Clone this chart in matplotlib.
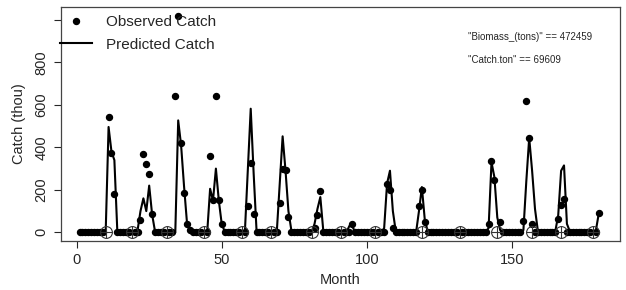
import numpy as np
import matplotlib
matplotlib.use("Agg")
import matplotlib.pyplot as plt
from matplotlib.lines import Line2D

plt.rcParams['font.family'] = ['Liberation Sans', 'DejaVu Sans']

nan = np.nan
months = np.arange(1, 181)

observed = [
    0, 0, 0, 0, 0, 0, 0, 0, 0, nan, 543, 373, 182, 0, 0,
    0, 0, 0, nan, 0, 0, 56, 370, 320, 273, 88, 0, 0, 0, 0,
    nan, 0, 0, 640, 1020, 420, 185, 40, 10, 0, 0, 0, 0, nan, 0,
    359, 150, 640, 150, 40, 0, 0, 0, 0, 0, 0, nan, 0, 122, 326,
    88, 0, 0, 0, 0, 0, nan, 0, 0, 138, 300, 292, 72, 0, 0,
    0, 0, 0, 0, 0, nan, 20, 80, 193, 0, 0, 0, 0, 0, 0,
    nan, 0, 0, 0, 40, 0, 0, 0, 0, 0, 0, 0, nan, 0, 0,
    0, 229, 198, 20, 0, 0, 0, 0, 0, 0, 0, 0, 122, 198, 49,
    0, 0, 0, 0, 0, 0, 0, 0, 0, 0, 0, nan, 0, 0, 0,
    0, 0, 0, 0, 0, 0, 41, 336, 248, nan, 49, 0, 0, 0, 0,
    0, 0, 0, 53, 618, 445, 41, 0, 0, 0, 0, 0, 0, 0, 0,
    64, 127, 158, 0, 0, 0, 0, 0, 0, 0, 0, 0, nan, 0, 93,
]

predicted = [
    0, 0, 0, 0, 0, 0, 0, 0, 0, 0, 496, 380, 340, 10, 0,
    0, 0, 0, 0, 0, 10, 100, 160, 100, 220, 85, 5, 0, 0, 0,
    0, 0, 0, 0, 527, 410, 220, 50, 5, 0, 0, 0, 0, 0, 0,
    205, 150, 300, 150, 40, 5, 0, 0, 0, 0, 0, 0, 5, 290, 582,
    280, 10, 0, 0, 0, 0, 0, 0, 5, 230, 452, 290, 100, 10, 0,
    0, 0, 0, 0, 0, 0, 40, 110, 166, 10, 0, 0, 0, 0, 0,
    0, 0, 0, 30, 30, 0, 0, 0, 0, 0, 0, 0, 0, 0, 0,
    20, 230, 290, 100, 5, 0, 0, 0, 0, 0, 0, 0, 100, 213, 60,
    5, 0, 0, 0, 0, 0, 0, 0, 0, 0, 0, 0, 0, 0, 0,
    0, 0, 0, 0, 0, 0, 20, 330, 260, 70, 10, 0, 0, 0, 0,
    0, 0, 0, 10, 240, 445, 290, 110, 5, 0, 0, 0, 0, 0, 5,
    80, 290, 315, 40, 5, 0, 0, 0, 0, 0, 0, 0, 0, 10, 90,
]

marked_months = [10, 19, 31, 44, 57, 67, 81, 91, 103, 119, 132, 145, 157, 167, 178]
marked_values = [0] * len(marked_months)

x_ticks = [0, 50, 100, 150]
y_ticks = [0, 200, 400, 600, 800, 1000]
y_ticklabels = ["0", "200", "400", "600", "800", ""]

annotations = ['"Biomass_(tons)" == 472459', '"Catch.ton" == 69609']

ink = '#262626'

fig = plt.figure(figsize=(6.26, 2.90), dpi=100)
ax = fig.add_axes([61/626, 1 - 241/290, (620-61)/626, (241-7)/290])

ax.plot(months, predicted, color='black', lw=1.5, zorder=2)
ax.plot(months, observed, 'o', color='black', ms=4.3, zorder=3)
ax.plot(marked_months, marked_values, 'o', mfc='none', mec='#333333', ms=8.5, mew=0.8, zorder=4)
ax.plot(marked_months, marked_values, '+', color='#333333', ms=8.5, mew=0.8, zorder=4)

ax.set_xlim(-5.4, 187.3)
ax.set_ylim(-40.8, 1060.8)
ax.set_xticks(x_ticks)
ax.set_yticks(y_ticks)
ax.set_yticklabels(y_ticklabels, rotation=90, va='center')
ax.tick_params(axis='both', direction='out', length=5, width=0.8, colors=ink, labelsize=10.5, pad=4)
for s in ax.spines.values():
    s.set_color('#444444')
    s.set_linewidth(0.9)

ax.set_xlabel('Month', fontsize=10.5, color=ink, labelpad=4)
ax.set_ylabel('Catch (thou)', fontsize=10.5, color=ink, labelpad=6)

ax.text(0.728, 0.872, annotations[0], transform=ax.transAxes, fontsize=7, color=ink, va='center', ha='left')
ax.text(0.728, 0.775, annotations[1], transform=ax.transAxes, fontsize=7, color=ink, va='center', ha='left')

handles = [Line2D([], [], marker='o', color='black', ls='none', ms=4.3),
           Line2D([], [], color='black', lw=1.5)]
ax.legend(handles, ['Observed Catch', 'Predicted Catch'], loc='upper left',
          bbox_to_anchor=(-0.002, 0.965), frameon=False, fontsize=11,
          handlelength=2.1, handletextpad=0.9, labelspacing=0.55,
          borderpad=0, borderaxespad=0, labelcolor=ink)

fig.savefig('out.png', dpi=100)
